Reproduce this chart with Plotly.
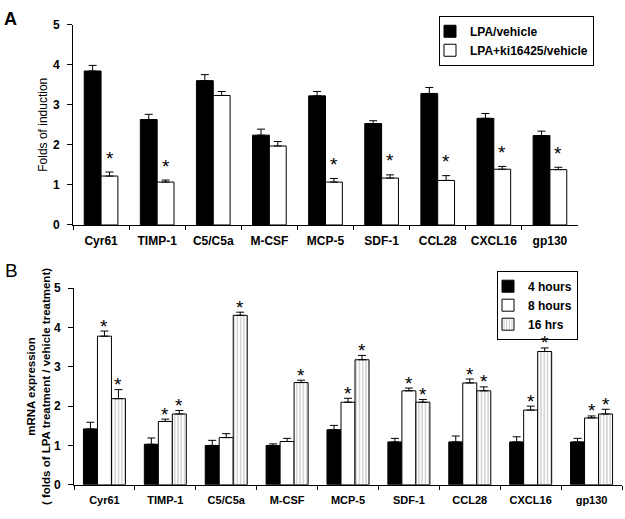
import plotly.graph_objects as go

genes = ["Cyr61", "TIMP-1", "C5/C5a", "M-CSF", "MCP-5", "SDF-1", "CCL28", "CXCL16", "gp130"]

# Panel A
a_lpa = [3.84, 2.63, 3.60, 2.24, 3.22, 2.53, 3.28, 2.66, 2.23]
a_lpa_err = [0.14, 0.13, 0.15, 0.15, 0.11, 0.07, 0.15, 0.12, 0.11]
a_ki = [1.22, 1.07, 3.23, 1.97, 1.07, 1.17, 1.11, 1.39, 1.38]
a_ki_err = [0.10, 0.05, 0.10, 0.11, 0.09, 0.08, 0.12, 0.07, 0.06]
a_ki_sig = [True, True, False, False, True, True, True, True, True]

# Panel B
b_4h = [1.42, 1.03, 1.00, 1.00, 1.40, 1.09, 1.09, 1.09, 1.09]
b_4h_err = [0.17, 0.16, 0.13, 0.04, 0.11, 0.09, 0.15, 0.13, 0.09]
b_8h = [3.78, 1.61, 1.20, 1.10, 2.10, 2.39, 2.59, 1.90, 1.70]
b_8h_err = [0.13, 0.06, 0.10, 0.08, 0.10, 0.07, 0.10, 0.10, 0.05]
b_16h = [2.19, 1.80, 4.31, 2.60, 3.18, 2.10, 2.39, 3.39, 1.80]
b_16h_err = [0.23, 0.09, 0.08, 0.06, 0.11, 0.07, 0.10, 0.09, 0.12]
b_8h_sig = [True, True, False, False, True, True, True, True, True]
b_16h_sig = [True] * 9

FONT = "Arial, Liberation Sans, sans-serif"
W, H = 625, 519

# bar geometry (category units)
A_W = 0.30
B_W = 0.23

fig = go.Figure()

def eb(err):
    return dict(type="data", array=err, arrayminus=[0] * len(err), symmetric=False,
                color="black", thickness=1, width=4)

line = dict(color="black", width=1)

fig.add_trace(go.Bar(x=genes, y=a_lpa, error_y=eb(a_lpa_err), name="LPA/vehicle",
                     width=A_W, offset=-A_W,
                     marker=dict(color="black", line=line), xaxis="x", yaxis="y",
                     legend="legend"))
fig.add_trace(go.Bar(x=genes, y=a_ki, error_y=eb(a_ki_err), name="LPA+ki16425/vehicle",
                     width=A_W, offset=0,
                     marker=dict(color="white", line=line), xaxis="x", yaxis="y",
                     legend="legend"))

fig.add_trace(go.Bar(x=genes, y=b_4h, error_y=eb(b_4h_err), name="4 hours",
                     width=B_W, offset=-1.5 * B_W,
                     marker=dict(color="black", line=line), xaxis="x2", yaxis="y2",
                     legend="legend2"))
fig.add_trace(go.Bar(x=genes, y=b_8h, error_y=eb(b_8h_err), name="8 hours",
                     width=B_W, offset=-0.5 * B_W,
                     marker=dict(color="white", line=line), xaxis="x2", yaxis="y2",
                     legend="legend2"))
fig.add_trace(go.Bar(x=genes, y=b_16h, error_y=eb(b_16h_err), name="16 hrs",
                     width=B_W, offset=0.5 * B_W,
                     marker=dict(color="white", line=line,
                                 pattern=dict(shape="|", fgcolor="#8a8a8a", bgcolor="white",
                                              size=3.3, solidity=0.35)),
                     xaxis="x2", yaxis="y2", legend="legend2"))

def px_x(p):
    return p / W

def px_y(p):
    return 1 - p / H

STAR = dict(family=FONT, size=19, color="black")
annotations = []
for g, v, e, s in zip(genes, a_ki, a_ki_err, a_ki_sig):
    if s:
        annotations.append(dict(x=g, y=v + e, xref="x", yref="y", text="*", showarrow=False,
                                xshift=8.5, yanchor="middle", yshift=14, font=STAR))
for g, v, e, s in zip(genes, b_8h, b_8h_err, b_8h_sig):
    if s:
        annotations.append(dict(x=g, y=v + e, xref="x2", yref="y2", text="*", showarrow=False,
                                xshift=0, yanchor="middle", yshift=5, font=STAR))
for g, v, e, s in zip(genes, b_16h, b_16h_err, b_16h_sig):
    if s:
        annotations.append(dict(x=g, y=v + e, xref="x2", yref="y2", text="*", showarrow=False,
                                xshift=14, yanchor="middle", yshift=5, font=STAR))

annotations.append(dict(x=px_x(10), y=px_y(12), xref="paper", yref="paper", text="<b>A</b>",
                        showarrow=False, xanchor="center", yanchor="middle",
                        font=dict(family=FONT, size=18, color="black")))
annotations.append(dict(x=px_x(11), y=px_y(271), xref="paper", yref="paper", text="B",
                        showarrow=False, xanchor="center", yanchor="middle",
                        font=dict(family=FONT, size=19, color="black")))

xcommon = dict(type="category", showline=True, linecolor="black", linewidth=1,
               ticks="outside", tickson="boundaries", ticklen=4, tickcolor="black",
               showgrid=False, zeroline=False, ticklabelstandoff=5)
ycommon = dict(range=[0, 5], dtick=1, showline=True, linecolor="black", linewidth=1,
               ticks="outside", ticklen=5, tickcolor="black", showgrid=False,
               zeroline=False, ticklabelstandoff=5)

fig.update_layout(
    width=W, height=H,
    margin=dict(l=0, r=0, t=0, b=0),
    paper_bgcolor="white", plot_bgcolor="white",
    barmode="group",
    font=dict(family=FONT, color="black"),
    xaxis=dict(domain=[px_x(73), px_x(578)], anchor="y",
               tickfont=dict(family=FONT, size=12, weight="bold"), **xcommon),
    yaxis=dict(domain=[px_y(224), px_y(18)], anchor="x",
               tickfont=dict(family=FONT, size=12, weight="bold"),
               title=dict(text="Folds of induction", font=dict(family=FONT, size=12), standoff=2),
               **ycommon),
    xaxis2=dict(domain=[px_x(74), px_x(622)], anchor="y2",
                tickfont=dict(family=FONT, size=11, weight="bold"), **xcommon),
    yaxis2=dict(domain=[px_y(491), px_y(289)], anchor="x2",
                tickfont=dict(family=FONT, size=12, weight="bold"),
                title=dict(text="mRNA expression<br>( folds of LPA treatment / vehicle treatment)",
                           font=dict(family=FONT, size=11.5, weight="bold"), standoff=0),
                **ycommon),
    legend=dict(x=px_x(594), y=px_y(9), xanchor="right", yanchor="top",
                bordercolor="black", borderwidth=1, bgcolor="white",
                font=dict(family=FONT, size=12, weight="bold"), itemwidth=30,
                indentation=-10, tracegroupgap=0, traceorder="normal"),
    legend2=dict(x=px_x(578), y=px_y(271), xanchor="right", yanchor="top",
                 bordercolor="black", borderwidth=1, bgcolor="white",
                 font=dict(family=FONT, size=12, weight="bold"), itemwidth=30,
                 indentation=-10, tracegroupgap=0, traceorder="normal"),
    annotations=annotations,
    showlegend=True,
)
fig.write_html("out.html", config={"displayModeBar": False},
               post_script="document.body.style.margin='0';document.body.style.overflow='hidden';")
